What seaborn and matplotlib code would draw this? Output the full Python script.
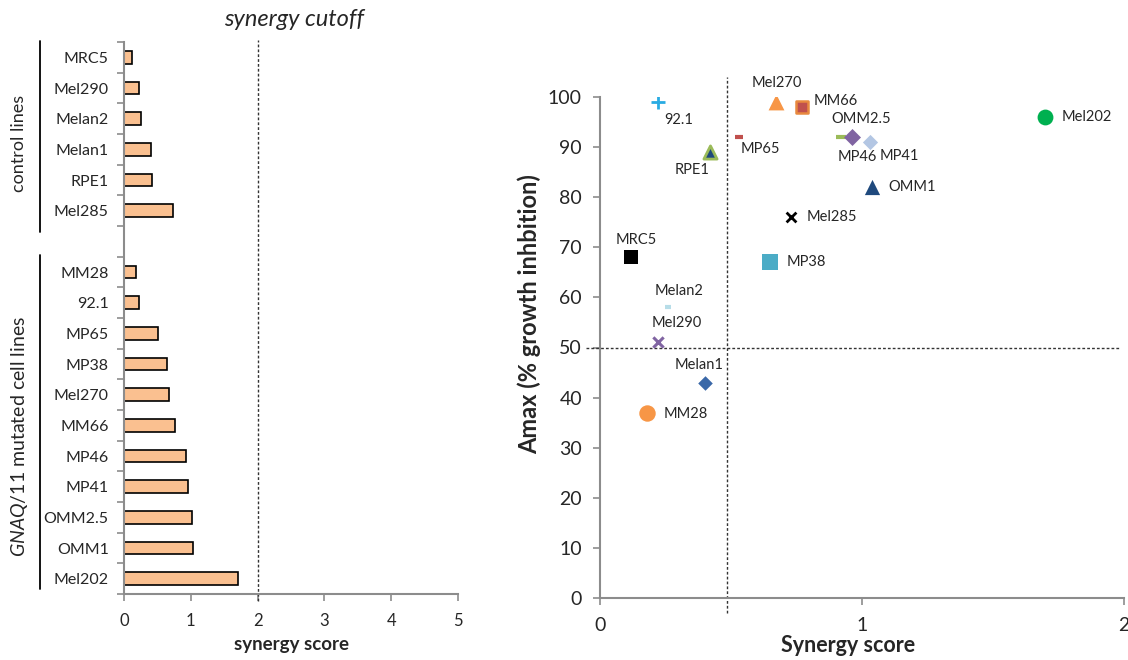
import matplotlib
matplotlib.use('Agg')
import matplotlib.pyplot as plt
import seaborn as sns
import pandas as pd
import numpy as np
from matplotlib.lines import Line2D

sns.set_style("white")
plt.rcParams['font.family'] = ['Lato', 'DejaVu Sans']
plt.rcParams['mathtext.fontset'] = 'custom'
plt.rcParams['mathtext.rm'] = 'Lato'
plt.rcParams['mathtext.it'] = 'Lato:italic'

# --- left panel data: synergy score per cell line ---
control_lines = ['MRC5', 'Mel290', 'Melan2', 'Melan1', 'RPE1', 'Mel285']
control_scores = [0.12, 0.22, 0.25, 0.40, 0.42, 0.73]
gnaq_lines = ['MM28', '92.1', 'MP65', 'MP38', 'Mel270', 'MM66', 'MP46',
              'MP41', 'OMM2.5', 'OMM1', 'Mel202']
gnaq_scores = [0.18, 0.22, 0.51, 0.65, 0.67, 0.77, 0.93, 0.96, 1.02, 1.04, 1.70]
bar_xticks = [0, 1, 2, 3, 4, 5]
bar_cutoff = 2

# --- right panel data: synergy score vs Amax ---
scatter_lines = ['92.1', 'Mel270', 'MM66', 'MP65', 'RPE1', 'OMM2.5', 'MP46', 'MP41',
                 'Mel202', 'OMM1', 'Mel285', 'MP38', 'MRC5', 'Melan2', 'Mel290',
                 'Melan1', 'MM28']
scatter_synergy = [0.22, 0.67, 0.77, 0.53, 0.42, 0.92, 0.96, 1.03,
                   1.70, 1.04, 0.73, 0.65, 0.12, 0.26, 0.22, 0.40, 0.18]
scatter_amax = [99, 99, 98, 92, 89, 92, 92, 91, 96, 82, 76, 67, 68, 58, 51, 43, 37]
scatter_xticks = [0, 1, 2]
scatter_yticks = list(range(0, 101, 10))
synergy_cutoff = 0.485
amax_cutoff = 50

# marker style per line: marker, size, face colour, edge colour, line width
marker_styles = {
    '92.1':   ('+', 90, '#29abe2', '#29abe2', 2.0),
    'Mel270': ('^', 130, '#f79646', '#f79646', 0),
    'MM66':   ('s', 85, '#c0504d', '#e8893f', 1.8),
    'MP65':   ('_', 30, '#c0504d', '#c0504d', 3.0),
    'RPE1':   ('^', 90, '#1f497d', '#9bbb59', 2.0),
    'OMM2.5': ('_', 55, '#9bbb59', '#9bbb59', 3.0),
    'MP46':   ('D', 75, '#8064a2', '#8064a2', 0),
    'MP41':   ('D', 60, '#b3c6e3', '#b3c6e3', 0),
    'Mel202': ('o', 130, '#00b050', '#00b050', 0),
    'OMM1':   ('^', 120, '#1f497d', '#1f497d', 0),
    'Mel285': ('x', 50, 'black', 'black', 2.0),
    'MP38':   ('s', 120, '#4bacc6', '#4bacc6', 0),
    'MRC5':   ('s', 100, 'black', 'black', 0),
    'Melan2': ('_', 25, '#b7dde8', '#b7dde8', 3.0),
    'Mel290': ('x', 55, '#8064a2', '#8064a2', 2.2),
    'Melan1': ('D', 55, '#3a68a8', '#3a68a8', 0),
    'MM28':   ('o', 140, '#f79646', '#f79646', 0),
}
# label placement: offset in pixels (dx, dy up) and horizontal alignment
label_offsets = {
    '92.1': (7, -18, 'left'), 'Mel270': (1, 19, 'center'), 'MM66': (12, 6, 'left'),
    'MP65': (2, -12, 'left'), 'RPE1': (-18, -18, 'center'), 'OMM2.5': (20, 18, 'center'),
    'MP46': (6, -20, 'center'), 'MP41': (10, -14, 'left'), 'Mel202': (16, 0, 'left'),
    'OMM1': (16, 0, 'left'), 'Mel285': (15, 0, 'left'), 'MP38': (16, 0, 'left'),
    'MRC5': (5, 17, 'center'), 'Melan2': (11, 16, 'center'), 'Mel290': (19, 19, 'center'),
    'Melan1': (-6, 18, 'center'), 'MM28': (16, -1, 'left'),
}

W, H = 1128, 660
fig = plt.figure(figsize=(W / 100, H / 100), dpi=100)
GREY = '#8c8c8c'


def px_box(x0, y0, x1, y1):
    return [x0 / W, 1 - y1 / H, (x1 - x0) / W, (y1 - y0) / H]


# ---------------- left: bar chart ----------------
ax1 = fig.add_axes(px_box(124, 42, 458, 594))
bar_df = pd.DataFrame({'line': control_lines + gnaq_lines,
                       'score': control_scores + gnaq_scores})
order = control_lines + [' '] + gnaq_lines
sns.barplot(data=bar_df, x='score', y='line', order=order, color='#fac090',
            saturation=1, edgecolor='black', linewidth=1.2, width=0.42,
            errorbar=None, ax=ax1)
ax1.set_xlim(0, 5)
ax1.set_ylim(len(order) - 0.5, -0.5)
ax1.set_xticks(bar_xticks)
ax1.set_yticks(np.arange(-0.5, len(order), 1), minor=True)
ax1.tick_params(axis='y', which='major', length=0, labelsize=11.5, pad=11)
ax1.tick_params(axis='y', which='minor', length=5, width=1.2, color=GREY, left=True)
ax1.tick_params(axis='x', length=5, width=1.2, color=GREY, bottom=True,
                labelsize=12, pad=9)
ax1.set_ylabel('')
ax1.set_xlabel('synergy score', fontsize=13.5, fontweight='bold')
ax1.xaxis.set_label_coords(0.5, -(636 - 594) / 552)
for side in ['top', 'right']:
    ax1.spines[side].set_visible(False)
for side in ['left', 'bottom']:
    ax1.spines[side].set_color(GREY)
    ax1.spines[side].set_linewidth(1.5)
ax1.plot([bar_cutoff, bar_cutoff], [len(order) - 0.28, -0.56], ls=(0, (2, 1.5)),
         color='#333333', lw=1, clip_on=False)
fig.text(294 / W, 1 - 20 / H, 'synergy cutoff', fontsize=17, style='italic',
         ha='center', va='center')

# group brackets
fig.add_artist(Line2D([40 / W, 40 / W], [1 - 41 / H, 1 - 232 / H], color='black', lw=1.3))
fig.add_artist(Line2D([40 / W, 40 / W], [1 - 255 / H, 1 - 589 / H], color='black', lw=1.3))
fig.text(19 / W, 1 - 192 / H, 'control lines', rotation=90, fontsize=13,
         ha='left', va='center', rotation_mode='anchor')
fig.text(19 / W, 1 - 557 / H, r'$\mathit{GNAQ/11}$ mutated cell lines', rotation=90,
         fontsize=14, ha='left', va='center', rotation_mode='anchor')

# ---------------- right: scatter ----------------
ax2 = fig.add_axes(px_box(600, 97, 1124, 598))
for name, sx, ay in zip(scatter_lines, scatter_synergy, scatter_amax):
    m, s, fc, ec, lw = marker_styles[name]
    sns.scatterplot(x=[sx], y=[ay], marker=m, s=s, color=fc, edgecolor=ec,
                    linewidth=lw, ax=ax2, zorder=3, legend=False)
    dx, dy, ha = label_offsets[name]
    ax2.annotate(name, (sx, ay), xytext=(dx * 0.72, dy * 0.72),
                 textcoords='offset points', ha=ha, va='center', fontsize=10.5)

ax2.set_xlim(0, 2)
ax2.set_ylim(0, 100)
ax2.set_xticks(scatter_xticks)
ax2.set_yticks(scatter_yticks)
ax2.tick_params(axis='both', length=5, width=1.2, color=GREY, labelsize=14,
                left=True, bottom=True, pad=8)
ax2.tick_params(axis='x', pad=9)
for side in ['top', 'right']:
    ax2.spines[side].set_visible(False)
for side in ['left', 'bottom']:
    ax2.spines[side].set_color(GREY)
    ax2.spines[side].set_linewidth(1.5)
ax2.plot([-0.055, 1.985], [amax_cutoff, amax_cutoff], ls=(0, (2, 1.5)),
         color='#333333', lw=1, clip_on=False, zorder=1)
ax2.plot([synergy_cutoff, synergy_cutoff], [-3, 104], ls=(0, (2, 1.5)),
         color='#333333', lw=1, clip_on=False, zorder=1)
ax2.set_xlabel('Synergy score', fontsize=15.5, fontweight='bold')
ax2.xaxis.set_label_coords((848 - 600) / 524, -(635 - 598) / 501)
ax2.set_ylabel('Amax (% growth inhbition)', fontsize=17, fontweight='bold')
ax2.yaxis.set_label_coords(-(600 - 541) / 524, (598 - 314) / 501)

fig.savefig('out.png', dpi=100)
